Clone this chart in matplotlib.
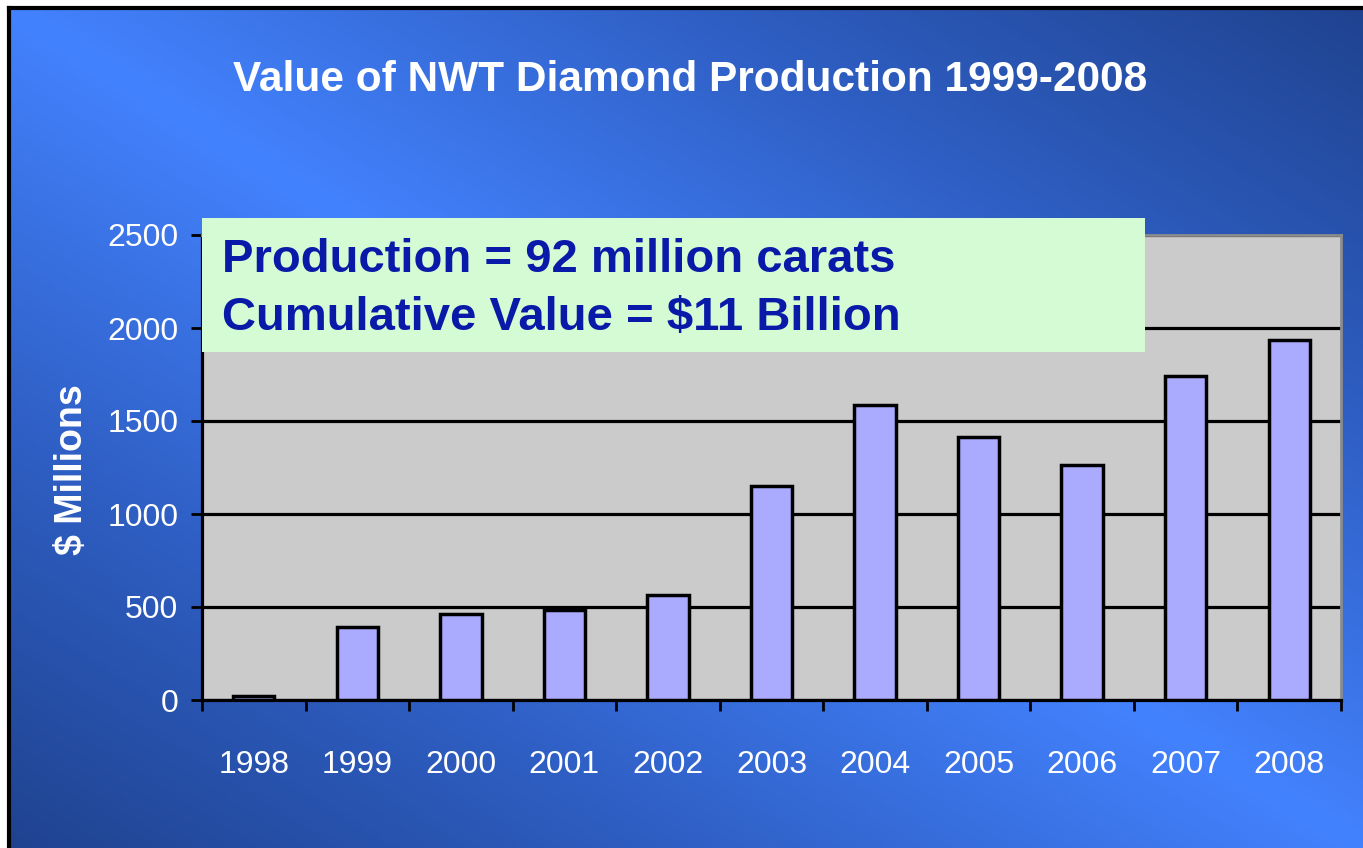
import numpy as np
import matplotlib
matplotlib.use('Agg')
import matplotlib.pyplot as plt
from matplotlib.colors import LinearSegmentedColormap
from matplotlib.patches import Rectangle

years = ['1998', '1999', '2000', '2001', '2002', '2003', '2004', '2005', '2006', '2007', '2008']
values = [20, 395, 460, 482, 565, 1150, 1585, 1412, 1262, 1742, 1935]
y_ticks = [0, 500, 1000, 1500, 2000, 2500]

title = 'Value of NWT Diamond Production 1999-2008'
note_lines = ['Production = 92 million carats', 'Cumulative Value = $11 Billion']

plt.rcParams['font.family'] = ['Liberation Sans', 'DejaVu Sans']

W, H = 1363, 848
fig = plt.figure(figsize=(W / 100, H / 100), dpi=100)
fig.patch.set_facecolor('white')

# gradient background (bright along the main diagonal, dark at the other corners)
bg = fig.add_axes([9 / W, 0, 1 - 9 / W, (H - 8) / H], zorder=-10)
gx, gy = np.meshgrid(np.linspace(0, 1, 400), np.linspace(0, 1, 300))
t = 1 - np.abs(gx - gy)
cmap = LinearSegmentedColormap.from_list('bg', ['#1f4390', '#2f5fc4', '#4382fe'])
bg.imshow(t, cmap=cmap, aspect='auto', extent=(0, 1, 1, 0), vmin=0, vmax=1)
bg.set_xticks([])
bg.set_yticks([])
for side in ['right', 'bottom']:
    bg.spines[side].set_visible(False)
for side in ['left', 'top']:
    bg.spines[side].set_linewidth(3)
    bg.spines[side].set_color('black')

ax = fig.add_axes([202 / W, 148 / H, 1139 / W, 465 / H])
ax.set_facecolor('#cbcbcb')
x = np.arange(len(years))
ax.bar(x, values, width=0.4, color='#aaaaff', edgecolor='black', linewidth=2.5, zorder=3)

ax.set_xlim(-0.5, len(years) - 0.5)
ax.set_ylim(0, 2500)
ax.set_yticks(y_ticks)
ax.set_yticklabels([str(v) for v in y_ticks], fontsize=23, color='white')
ax.yaxis.grid(True, color='black', linewidth=2.3, zorder=1)
ax.set_axisbelow(True)

ax.set_xticks(np.arange(-0.5, len(years), 1))
ax.set_xticklabels([])
ax.set_xticks(x, minor=True)
ax.set_xticklabels(years, minor=True, fontsize=23, color='white')
ax.tick_params(axis='x', which='major', direction='out', length=8, width=2, color='black')
ax.tick_params(axis='x', which='minor', length=0, pad=36)
ax.tick_params(axis='y', direction='out', length=8, width=2, color='black', pad=9)

for side in ['left', 'bottom']:
    ax.spines[side].set_linewidth(2.3)
    ax.spines[side].set_color('black')
for side in ['top', 'right']:
    ax.spines[side].set_linewidth(2)
    ax.spines[side].set_color('#8c8c8c')

ax.set_ylabel('$ Millions', fontsize=27, fontweight='bold', color='white')
ax.yaxis.set_label_coords((90 - 202) / 1139, 0.495)

fig.text(690 / W, 1 - 80 / H, title, ha='center', va='center', fontsize=30.5,
         fontweight='bold', color='white')

fig.patches.append(Rectangle((202 / W, 1 - 352 / H), 943 / W, 134 / H,
                             transform=fig.transFigure, facecolor='#d5fbd5',
                             edgecolor='none', zorder=5))
fig.text(222 / W, 1 - 260 / H, note_lines[0], ha='left', va='center', fontsize=34,
         fontweight='bold', color='#0a1aa8', zorder=6)
fig.text(222 / W, 1 - 318 / H, note_lines[1], ha='left', va='center', fontsize=34,
         fontweight='bold', color='#0a1aa8', zorder=6)

fig.savefig('out.png', dpi=100)
